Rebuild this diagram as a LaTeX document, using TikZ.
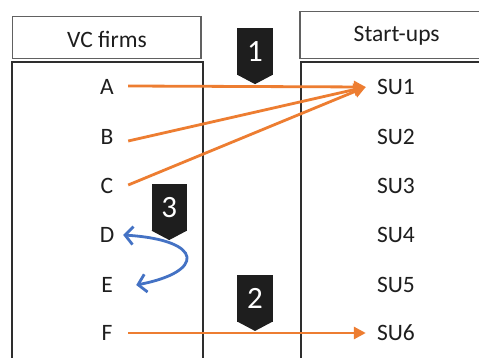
\documentclass[tikz,border=0pt]{standalone}
\usepackage{fontspec}
\setmainfont{Carlito}
\usetikzlibrary{arrows.meta,calc}
\definecolor{flowor}{HTML}{ED7D31}
\definecolor{swapbl}{HTML}{4472C4}
\definecolor{inkdark}{HTML}{1E1E1E}
\begin{document}
\begin{tikzpicture}[x=1pt,y=-1pt,
  headbox/.style={draw=black!62,line width=1.2pt},
  bodybox/.style={draw=black!82,line width=1.9pt},
  headtext/.style={font=\fontsize{23.5}{23.5}\selectfont,text=inkdark,inner sep=0pt},
  item/.style={font=\fontsize{23.5}{23.5}\selectfont,text=inkdark,inner sep=0pt,minimum width=42pt},
  suitem/.style={font=\fontsize{23.5}{23.5}\selectfont,text=inkdark,inner sep=0pt,minimum width=60pt},
  flow/.style={draw=flowor,line width=2.8pt,-{Triangle[length=12pt,width=12pt]}},
  swaparrow/.style={draw=swapbl,line width=2.8pt,
    {Straight Barb[length=8pt,width=18pt]}-{Straight Barb[length=8pt,width=18pt]}},
  badge/.style={fill=inkdark,text=white,inner sep=0pt,minimum width=35.4pt,
    minimum height=46.7pt,font=\fontsize{31}{31}\selectfont}]
\useasboundingbox (0,0) rectangle (479,358);
\clip (0,0) rectangle (479,358);
\fill[white] (0,0) rectangle (479,358);

% column frames
\draw[headbox] (12.7,16.7) rectangle (201,58.3);
\draw[bodybox] (11.7,61.7) rectangle (202.7,400);
\draw[headbox] (300,11.7) rectangle (520,58.3);
\draw[bodybox] (301,61.7) rectangle (520,400);
\node[headtext] (vchead) at (107,39) {VC firms};
\node[headtext] (suhead) at (396.7,36) {Start-ups};

% VC firms and start-ups
\foreach \n/\y in {A/87,B/137,C/186,D/235,E/285,F/333}
  \node[item] (\n) at (107,\y) {\n};
\foreach \i/\y in {1/87,2/137,3/186,4/235,5/285,6/333}
  \node[suitem] (SU\i) at (396,\y) {SU\i};

% investments
\draw[flow] ([yshift=1pt]A.east) -- (SU1.west);
\draw[flow] ([yshift=-4pt]B.east) -- (SU1.west);
\draw[flow] ([yshift=1pt]C.east) -- (SU1.west);
\draw[flow] (F.east) -- (SU6.west);

% exchange between D and E
\draw[swaparrow] ([xshift=-5pt]D.east) .. controls (205,240) and (205,272) .. ([xshift=8pt]E.east);

% numbered markers
\foreach \b/\x/\y/\t in {b1/255/51.6/1, b2/255/298.4/2, b3/169.2/207.5/3}{
  \node[badge] (\b) at (\x,\y) {\t};
  \fill[inkdark] ([yshift=0.5pt]\b.south west) -- ([yshift=0.5pt]\b.south east)
    -- ($(\b.south)+(0,9)$) -- cycle;
}
\end{tikzpicture}
\end{document}
